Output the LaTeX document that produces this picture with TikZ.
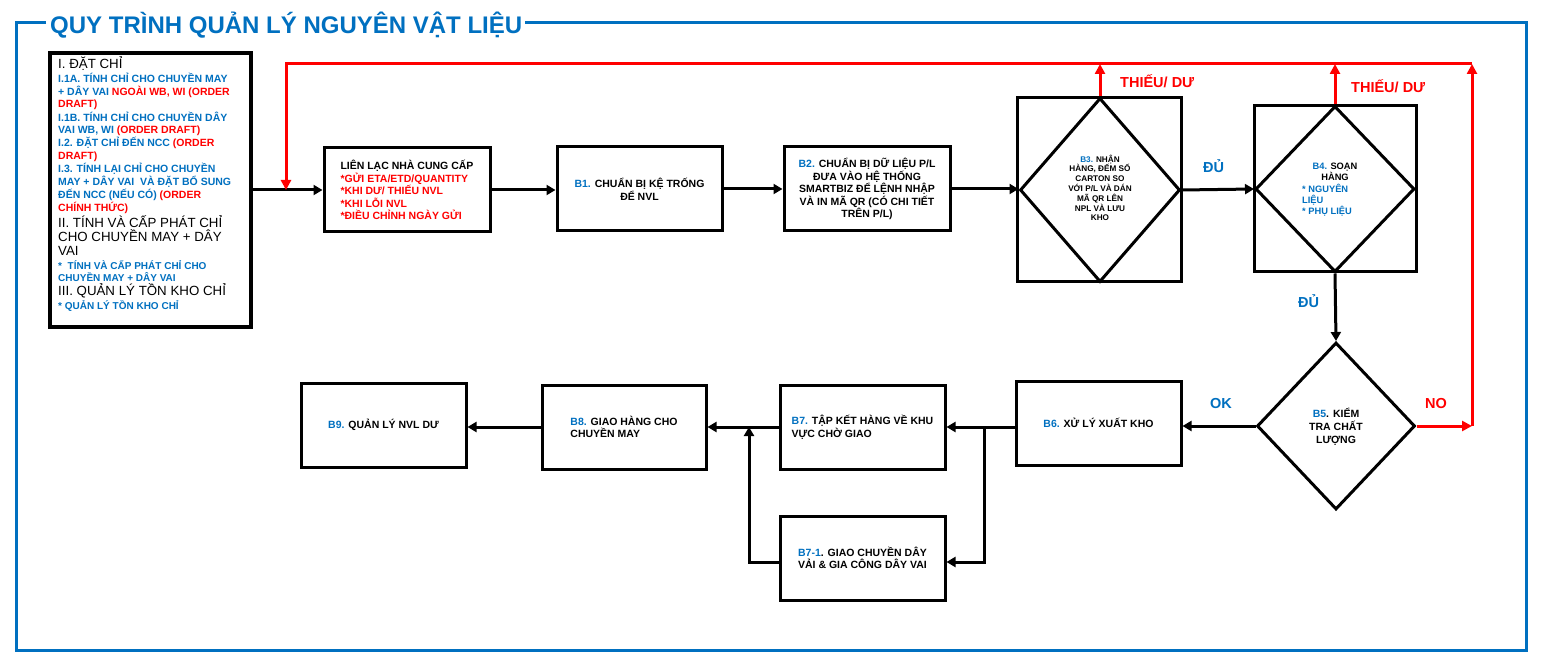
\documentclass[tikz,border=0pt]{standalone}
\usepackage{fontspec}
\setmainfont{Liberation Sans}
\usetikzlibrary{arrows.meta,shapes.geometric,calc}
\definecolor{bl}{HTML}{0070C0}
\definecolor{rd}{HTML}{FF0000}
\newcommand{\fsz}[2]{\fontsize{#1}{#2}\selectfont}
\begin{document}
\begin{tikzpicture}[x=1pt,y=-1pt,
  box/.style={draw, line width=3pt, inner sep=0pt, minimum width=165pt, minimum height=84pt, font=\bfseries\fsz{10.5}{12.6}},
  dia/.style={draw, diamond, line width=3pt, inner sep=0pt},
  ln/.style={anchor=base west, inner sep=0pt},
  bt/.style={ln, font=\bfseries\fsz{10.5}{12}},
  bs/.style={ln, font=\bfseries\fsz{10}{12}},
  hd/.style={ln, font=\fsz{13.3}{15}},
  lbl/.style={ln, font=\bfseries\fsz{14.5}{17}},
  conn/.style={line width=3pt, -{Triangle[length=9pt,width=10pt]}},
  rconn/.style={line width=3pt, draw=rd, -{Triangle[length=10pt,width=10pt]}},
  frame/.style={draw=bl, line width=3pt}
]
\useasboundingbox (0,0) rectangle (1547,668);
\fill[white] (0,0) rectangle (1547,668);

% title and frame
\node[ln, font=\bfseries\fsz{24}{28}, text=bl] (title) at (50,34) {QUY TRÌNH QUẢN LÝ NGUYÊN VẬT LIỆU};
\draw[frame] (title.west |- 0,23) ++(-4,0) -- (16,23) -- (16,650) -- (1526,650) -- (1526,23) -- ($(title.east |- 0,23)+(3,0)$);

% intro box
\node[draw, line width=4pt, minimum width=201pt, minimum height=274pt, inner sep=0pt] (intro) at (150.5,190) {};
\node[hd] (i1) at (58,69) {I. ĐẶT CHỈ};
\node[bt, text=bl] (i2) at (58,83) {I.1A. TÍNH CHỈ CHO CHUYỀN MAY};
\node[bt] (i3) at (58,96) {\textcolor{bl}{+ DÂY VAI} \textcolor{rd}{NGOÀI WB, WI (ORDER}};
\node[bt, text=rd] (i4) at (58,108) {DRAFT)};
\node[bt, text=bl] (i5) at (58,122) {I.1B. TÍNH CHỈ CHO CHUYỀN DÂY};
\node[bt] (i6) at (58,134) {\textcolor{bl}{VAI WB, WI} \textcolor{rd}{(ORDER DRAFT)}};
\node[bt] (i7) at (58,147) {\textcolor{bl}{I.2. ĐẶT CHỈ ĐẾN NCC} \textcolor{rd}{(ORDER}};
\node[bt, text=rd] (i8) at (58,160) {DRAFT)};
\node[bt, text=bl] (i9) at (58,173) {I.3. TÍNH LẠI CHỈ CHO CHUYỀN};
\node[bt, text=bl] (i10) at (58,186) {MAY + DÂY VAI\ \ VÀ ĐẶT BỔ SUNG};
\node[bt] (i11) at (58,199) {\textcolor{bl}{ĐẾN NCC (NẾU CÓ)} \textcolor{rd}{(ORDER}};
\node[bt, text=rd] (i12) at (58,212) {CHÍNH THỨC)};
\node[hd] (i13) at (58,228) {II. TÍNH VÀ CẤP PHÁT CHỈ};
\node[hd] (i14) at (58,242) {CHO CHUYỀN MAY + DÂY};
\node[hd] (i15) at (58,256) {VAI};
\node[bs, text=bl] (i16) at (58,270) {*\ \ TÍNH VÀ CẤP PHÁT CHỈ CHO};
\node[bs, text=bl] (i17) at (58,282) {CHUYỀN MAY + DÂY VAI};
\node[hd] (i18) at (58,296) {III. QUẢN LÝ TỒN KHO CHỈ};
\node[bs, text=bl] (i19) at (58,309) {* QUẢN LÝ TỒN KHO CHỈ};

% top row
\node[box, minimum width=166pt, align=left] (ncc) at (407,190) {LIÊN LẠC NHÀ CUNG CẤP\\\textcolor{rd}{*GỬI ETA/ETD/QUANTITY}\\\textcolor{rd}{*KHI DƯ/ THIẾU NVL}\\\textcolor{rd}{*KHI LỖI NVL}\\\textcolor{rd}{*ĐIỀU CHỈNH NGÀY GỬI}};
\node[box, align=center] (b1) at (639.5,189) {\textcolor{bl}{B1.} CHUẨN BỊ KỆ TRỐNG\\ĐỂ NVL};
\node[box, minimum width=166pt, align=center] (b2) at (867,189) {\textcolor{bl}{B2.} CHUẨN BỊ DỮ LIỆU P/L\\ĐƯA VÀO HỆ THỐNG\\SMARTBIZ ĐỂ LỆNH NHẬP\\VÀ IN MÃ QR (CÓ CHI TIẾT\\TRÊN P/L)};

\node[box, minimum width=164pt, minimum height=184pt] (b3s) at (1099,190) {};
\node[dia, minimum width=160pt, minimum height=184pt] (b3d) at (1100,190) {};
\node[font=\bfseries\fsz{8.2}{9.8}, align=center, inner sep=0pt, anchor=base] (b3t) at (1100,221) {\textcolor{bl}{B3.} NHẬN\\HÀNG, ĐẾM SỐ\\CARTON SO\\VỚI P/L VÀ DÁN\\MÃ QR LÊN\\NPL VÀ LƯU\\KHO};

\node[box, minimum width=162pt, minimum height=166pt] (b4s) at (1335,189) {};
\node[dia, minimum width=159pt, minimum height=166pt] (b4d) at (1335,189) {};
\node[font=\bfseries\fsz{9.3}{11}, align=center, inner sep=0pt, anchor=base] (b4t) at (1335,181) {\textcolor{bl}{B4.} SOẠN\\HÀNG};
\node[font=\bfseries\fsz{9.3}{11.2}, align=left, inner sep=0pt, anchor=base west, text=bl] (b4u) at (1302,215) {* NGUYÊN\\LIỆU\\* PHỤ LIỆU};

% B5
\node[dia, minimum width=158pt, minimum height=167pt] (b5d) at (1336,426) {};
\node[font=\bfseries\fsz{10.5}{13}, align=center, inner sep=0pt, anchor=base] (b5t) at (1336,443) {\textcolor{bl}{B5}. KIỂM\\TRA CHẤT\\LƯỢNG};

% bottom row
\node[box] (b6) at (1098.5,423) {\textcolor{bl}{B6.} XỬ LÝ XUẤT KHO};
\node[box, align=left] (b7) at (862.5,427) {\textcolor{bl}{B7.} TẬP KẾT HÀNG VỀ KHU\\VỰC CHỜ GIAO};
\node[box, align=left] (b71) at (862.5,558) {\textcolor{bl}{B7-1}. GIAO CHUYỀN DÂY\\VẢI \& GIA CÔNG DÂY VAI};
\node[box, minimum width=164pt, align=left] (b8) at (624,427) {\textcolor{bl}{B8.} GIAO HÀNG CHO\\CHUYỀN MAY};
\node[box] (b9) at (383.5,425) {\textcolor{bl}{B9.} QUẢN LÝ NVL DƯ};

% connectors top row
\draw[conn] (intro.east |- ncc.west) -- (ncc.west);
\draw[conn] (ncc.east) -- (ncc.east -| b1.west);
\draw[conn] (b1.east) -- (b1.east -| b2.west);
\draw[conn] (b2.east) -- (b2.east -| b3d.west);
\draw[conn] (b3d.east) -- (b4d.west);
\draw[conn] (b4d.south) -- (b5d.north);

% red feedback
\coordinate (rtl) at (286,64);
\coordinate (rtr) at (1472,64);
\coordinate (rr) at (1472,426);
\draw[rconn] (b5d.east) -- (rr);
\draw[rconn] (rr) -- (rtr);
\draw[rconn] (rtr) -- (rtl) -- (rtl |- ncc.west);
\draw[rconn] (b3d.north) -- (b3d.north |- rtl);
\draw[rconn] (b4d.north) -- (b4d.north |- rtl);

% labels
\node[lbl, text=rd] (l1) at (1120,88) {THIẾU/ DƯ};
\node[lbl, text=rd] (l2) at (1351,93) {THIẾU/ DƯ};
\node[lbl, text=bl] (l3) at (1203,173) {ĐỦ};
\node[lbl, text=bl] (l4) at (1298,307) {ĐỦ};
\node[lbl, text=bl] (l5) at (1210,408) {OK};
\node[lbl, text=rd] (l6) at (1425,408) {NO};

% bottom connectors
\draw[conn] (b5d.west) -- (b5d.west -| b6.east);
\coordinate (j1) at (984,427);
\coordinate (j2) at (984,562);
\coordinate (j3) at (749,427);
\draw[conn] (b6.west |- b7.east) -- (b7.east);
\draw[conn] (j1) -- (j2) -- (b71.east |- j2);
\draw[conn] (b71.west |- j2) -- (j3 |- j2) -- (j3);
\draw[conn] (b7.west) -- (b8.east);
\draw[conn] (b8.west) -- (b8.west -| b9.east);
\end{tikzpicture}
\end{document}
